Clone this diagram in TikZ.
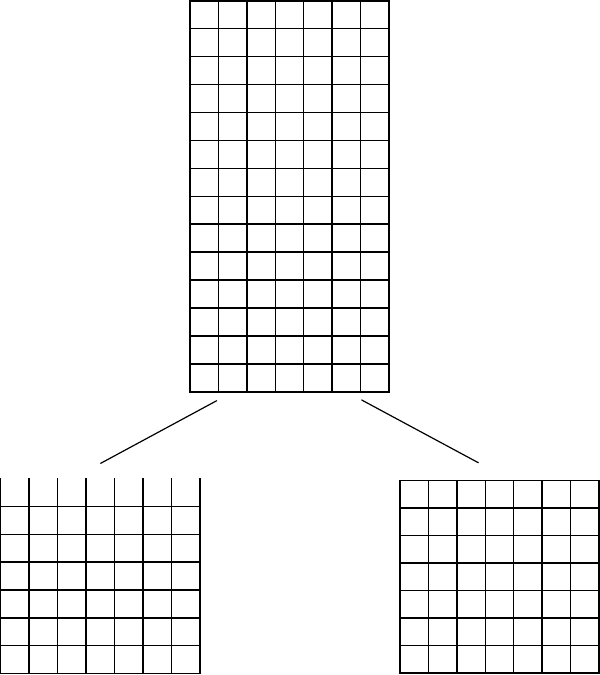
\documentclass[tikz,border=0pt]{standalone}
\usepackage{tikz}
\tikzset{
  cell/.style={draw=black, line width=1.5pt, line cap=rect},
  link/.style={draw=black, line width=1.2pt, line cap=round},
}
\begin{document}
\begin{tikzpicture}[x=1pt,y=-1pt]
  \useasboundingbox (0,0) rectangle (600,675);
  % top strip, 7 x 14
  \foreach \i in {0,...,7}
    \draw[cell] ({190+\i*28.43},0.8) -- ({190+\i*28.43},391.8);
  \foreach \j in {0,...,14}
    \draw[cell] (190,{0.8+\j*27.93}) -- (389,{0.8+\j*27.93});
  % bottom left, top row open
  \foreach \i in {0,...,7}
    \draw[cell] ({0.7+\i*28.47},478.3) -- ({0.7+\i*28.47},673.3);
  \foreach \j in {0,...,6}
    \draw[cell] (0.7,{506.7+\j*27.77}) -- (200,{506.7+\j*27.77});
  % bottom right, 7 x 7
  \foreach \i in {0,...,7}
    \draw[cell] ({400+\i*28.43},480.7) -- ({400+\i*28.43},673);
  \foreach \j in {0,...,7}
    \draw[cell] (400,{480.7+\j*27.47}) -- (599,{480.7+\j*27.47});
  % split lines
  \coordinate (splitL) at (216.7,400.7);
  \coordinate (leafL) at (100.7,463.3);
  \coordinate (splitR) at (361.7,400);
  \coordinate (leafR) at (478.3,462.7);
  \draw[link] (splitL) -- (leafL);
  \draw[link] (splitR) -- (leafR);
\end{tikzpicture}
\end{document}
